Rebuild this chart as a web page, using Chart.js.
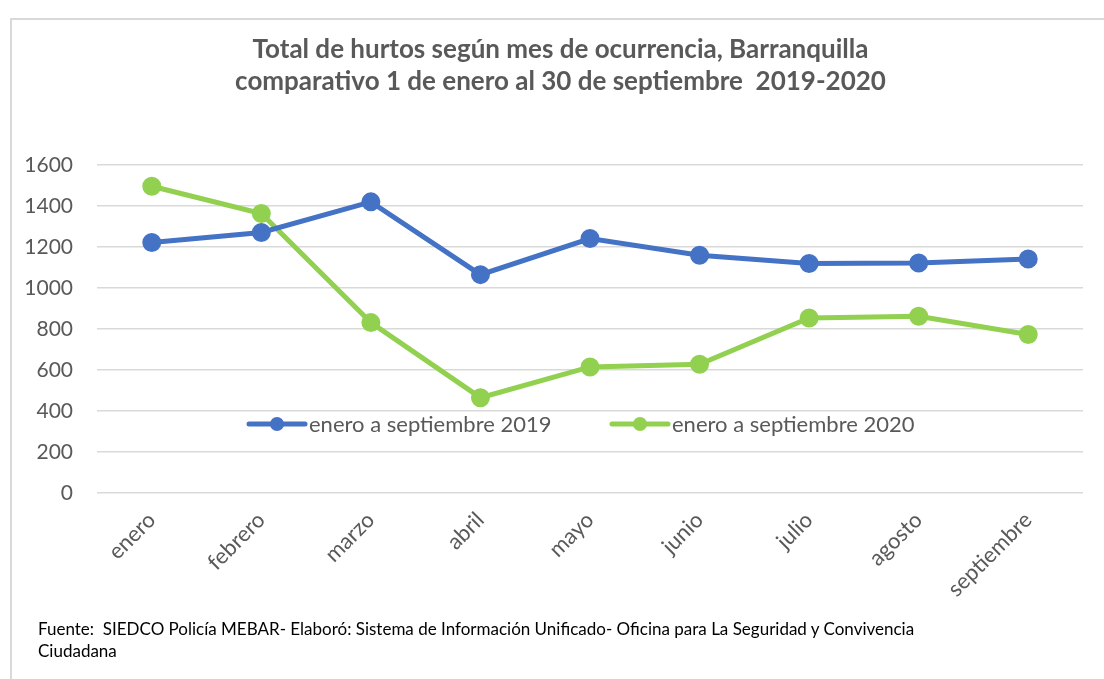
<!DOCTYPE html>
<html>
<head>
<meta charset="utf-8">
<script src="https://cdn.jsdelivr.net/npm/chart.js@4"></script>
<style>
  html, body { margin: 0; padding: 0; background: #fff; }
  body { width: 1104px; height: 679px; position: relative; overflow: hidden; }
  #frame { position: absolute; left: 10px; top: 18px; width: 1200px; height: 800px;
           border-left: 2px solid #d9d9d9; border-top: 2px solid #d9d9d9; box-sizing: border-box; }
  #wrap { position: absolute; left: 0; top: 0; width: 1104px; height: 679px; }
  #footer { position: absolute; left: 38px; top: 618px; font-family: Lato, sans-serif;
            font-size: 17px; line-height: 22px; color: #000; white-space: pre; }
</style>
</head>
<body>
<div id="frame"></div>
<div id="wrap"><canvas id="c" width="1104" height="679"></canvas></div>
<div id="footer">Fuente:  SIEDCO Policía MEBAR- Elaboró: Sistema de Información Unificado- Oficina para La Seguridad y Convivencia
Ciudadana</div>
<script>
const months = ["enero","febrero","marzo","abril","mayo","junio","julio","agosto","septiembre"];
const series2019 = [1222, 1271, 1420, 1065, 1241, 1160, 1119, 1122, 1141];
const series2020 = [1496, 1363, 831, 465, 615, 628, 854, 862, 773];
const seriesNames = ["enero a septiembre 2019", "enero a septiembre 2020"];
const titleLines = ["Total de hurtos según mes de ocurrencia, Barranquilla",
                    "comparativo 1 de enero al 30 de septiembre  2019-2020"];

const TEXT = "#595959";
const BLUE = "#4472C4";
const GREEN = "#92D050";

const insideLegend = {
  id: "insideLegend",
  afterDatasetsDraw(chart, args, opts) {
    const ctx = chart.ctx;
    ctx.save();
    chart.data.datasets.forEach((ds, i) => {
      const it = opts.items[i];
      const y = opts.y;
      ctx.strokeStyle = ds.borderColor;
      ctx.lineWidth = ds.borderWidth;
      ctx.lineCap = "round";
      ctx.beginPath();
      ctx.moveTo(it.x, y);
      ctx.lineTo(it.x + opts.lineLen, y);
      ctx.stroke();
      ctx.fillStyle = ds.pointBackgroundColor;
      ctx.beginPath();
      ctx.arc(it.x + opts.lineLen / 2, y, ds.pointRadius, 0, Math.PI * 2);
      ctx.fill();
      ctx.fillStyle = TEXT;
      ctx.font = opts.font;
      ctx.textBaseline = "middle";
      ctx.textAlign = "left";
      ctx.fillText(ds.label, it.x + opts.lineLen + opts.gap, y + 1);
    });
    ctx.restore();
  }
};

// centre the title over the framed panel rather than the whole canvas
const titleShift = {
  id: "titleShift",
  afterLayout(chart, args, opts) {
    if (chart.titleBlock) chart.titleBlock.left = opts.left;
  }
};

new Chart(document.getElementById("c"), {
  type: "line",
  data: {
    labels: months,
    datasets: [
      { label: seriesNames[0], data: series2019, borderColor: BLUE, backgroundColor: BLUE,
        pointBackgroundColor: BLUE, pointBorderColor: BLUE, borderWidth: 5, pointRadius: 7,
        pointHoverRadius: 7, tension: 0 },
      { label: seriesNames[1], data: series2020, borderColor: GREEN, backgroundColor: GREEN,
        pointBackgroundColor: GREEN, pointBorderColor: GREEN, borderWidth: 5, pointRadius: 7,
        pointHoverRadius: 7, tension: 0 }
    ]
  },
  options: {
    responsive: false,
    animation: false,
    events: [],
    layout: { padding: { left: 0, right: 21, top: 0, bottom: 46 } },
    plugins: {
      legend: { display: false },
      tooltip: { enabled: false },
      title: {
        display: true,
        text: titleLines,
        color: TEXT,
        font: { family: "Lato", size: 26, weight: "bold", lineHeight: 1.23 },
        padding: { top: 34, bottom: 67 }
      },
      titleShift: { left: 38 },
      insideLegend: {
        y: 424,
        lineLen: 56,
        gap: 4,
        font: "22px Lato",
        items: [{ x: 249 }, { x: 612 }]
      }
    },
    scales: {
      x: {
        offset: true,
        grid: { display: false, drawTicks: false },
        border: { display: false },
        ticks: { color: TEXT, font: { family: "Lato", size: 22 }, minRotation: 45, maxRotation: 45, padding: 14 },
        afterFit(s) { s.height = 140; }
      },
      y: {
        min: 0, max: 1600,
        grid: { color: "#d9d9d9", lineWidth: 1.5, drawTicks: false },
        border: { display: false },
        ticks: { stepSize: 200, color: TEXT, font: { family: "Lato", size: 21 }, padding: 24,
                 callback: (v) => String(v) },
        afterFit(s) { s.width = 97; }
      }
    }
  },
  plugins: [insideLegend, titleShift]
});
</script>
</body>
</html>
